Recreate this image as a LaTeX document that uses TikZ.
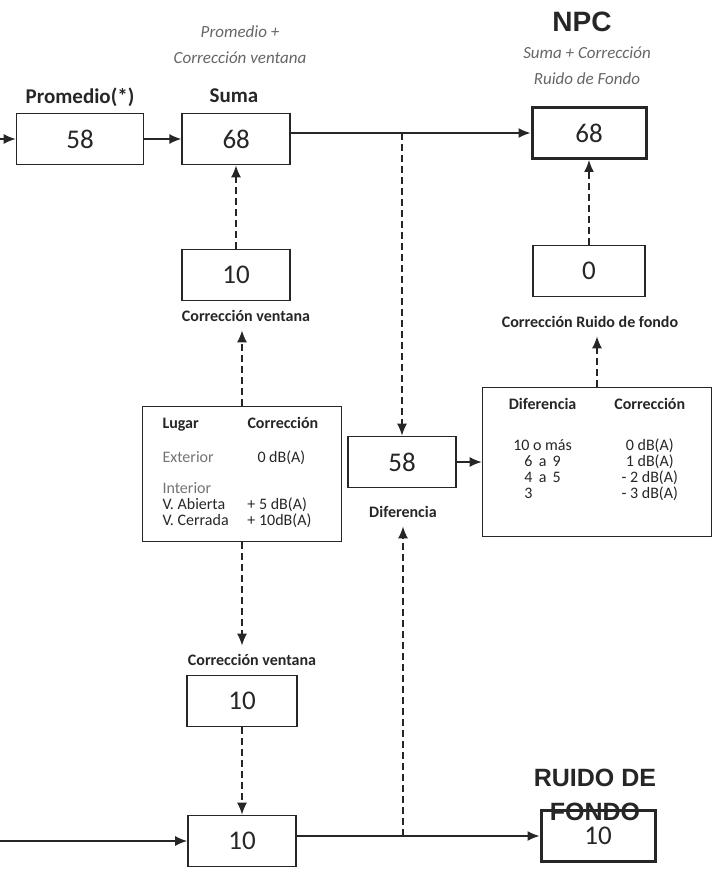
\documentclass[tikz,border=0pt]{standalone}
\usepackage{fontspec}
\setmainfont{Carlito}
\newfontfamily\headfont{Liberation Sans}
\usetikzlibrary{arrows.meta, positioning}

\begin{document}
\begin{tikzpicture}[
    x=1pt, y=-1pt,
    line width=1.4pt, draw=black!85, text=black!85,
    >={Latex[length=12pt,width=10pt]},
    box/.style={draw, line width=1.7pt, inner sep=0pt,
    minimum width=108pt, minimum height=51pt, font=\fontsize{27}{30}\selectfont},
    result/.style={box, line width=3pt, minimum width=114pt},
    tabbox/.style={draw, line width=1.7pt, inner sep=0pt,
    font=\fontsize{16}{15}\selectfont},
    title/.style={font=\bfseries\fontsize{21}{24}\selectfont},
    tag/.style={inner sep=8pt, font=\bfseries\fontsize{16}{18}\selectfont},
    note/.style={align=center, text=black!60, font=\itshape\fontsize{17}{26}\selectfont},
    big/.style={align=center, font=\headfont\bfseries\fontsize{28}{34}\selectfont},
    link/.style={->, line width=1.5pt, dash pattern=on 7pt off 4pt}
    ]
    \useasboundingbox (0,0) rectangle (723,869);

    % upper row
    \node[box, minimum width=127pt] (prom) at (80,139)          {58};
    \node[box]    (suma)  [right=37pt of prom]                   {68};
    \node[result] (npc)   at (589,133)                           {68};

    \node[title]  (tprom) at (80,97)                             {Promedio(*)};
    \node[title]  (tsuma) at (234,96)                            {Suma};
    \node[note]   (nsuma) at (240,45)                  {Promedio +\\Corrección ventana};
    \node[big]    (tnpc)  at (582,22)                            {NPC};
    \node[note]   (nnpc)  at (587,66)              {Suma + Corrección\\Ruido de Fondo};

    % window correction
    \node[box]    (cv1)   at (236,275)                           {10};
    \node[tag]    (lcv1)  at (246,316)                           {Corrección ventana};
    \node[tabbox, minimum width=199pt, minimum height=135pt] (tabcv) at (242,474) {%
      \begin{tabular}{@{}p{85pt}@{}p{74pt}@{}}
        \textbf{Lugar}                 & \textbf{Corrección}           \\[17pt]
        \textcolor{black!55}{Exterior} & \leavevmode\hspace{10pt}0 dB(A) \\[16pt]
        \textcolor{black!55}{Interior} &                               \\
        V. Abierta                     & + 5 dB(A)                     \\
        V. Cerrada                     & + 10dB(A)
      \end{tabular}};
    \node[tag]    (lcv2)  at (252,660)                           {Corrección ventana};
    \node[box, minimum width=110pt] (cv2) at (242,701)           {10};

    % background noise
    \node[box]    (diff)  at (402,462)                           {58};
    \node[tag]    (ldiff) at (403,512)                           {Diferencia};
    \node[tabbox, minimum width=229pt, minimum height=149pt] (tabrf) at (597,462) {%
      \begin{tabular}{@{}c@{\hspace{38pt}}c@{}}
        \textbf{Diferencia}   & \textbf{Corrección} \\[24pt]
        10 o más              & 0 dB(A)             \\
        6 \,a\, 9             & 1 dB(A)             \\
        4 \,a\, 5             & - 2 dB(A)           \\
        3\phantom{ \,a\, 5}   & - 3 dB(A)           \\[22pt]
      \end{tabular}};
    \node[box, minimum width=112pt] (crf) at (589,271)           {0};
    \node[tag]    (lcrf)  at (590,322)                    {Corrección Ruido de fondo};

    % lower row
    \node[box]    (bk)    at (242,841)                           {10};
    \node[result] (rf)    at (598,836)                           {10};
    \node[big, font=\headfont\bfseries\fontsize{25}{34}\selectfont] (trf) at (595,795) {RUIDO DE\\FONDO};

    \coordinate (in1) at (0,139);
    \coordinate (in2) at (0,841);

    % solid connectors
    \draw[->] (in1) -- (prom.west);
    \draw[->] (prom.east) -- (suma.west);
    \draw[->] (suma.east |- npc.west) -- (npc.west);
    \draw[->] (diff.east) -- (tabrf.west);
    \draw[->] (in2) -- (bk.west);
    \draw[->] (bk.east |- rf.west) -- (rf.west);

    % dashed connectors
    \draw[link] (diff.north |- npc.west) -- (diff.north);
    \draw[link] (cv1.north) -- (cv1.north |- suma.south);
    \draw[link] (tabcv.north) -- (tabcv.north |- lcv1.south);
    \draw[link] (tabcv.south) -- (tabcv.south |- lcv2.north);
    \draw[link] (cv2.south) -- (bk.north);
    \draw[link] (ldiff.south |- rf.west) -- (ldiff.south);
    \draw[link] (tabrf.north) -- (tabrf.north |- lcrf.south);
    \draw[link] (crf.north) -- (crf.north |- npc.south);
\end{tikzpicture}
\end{document}
